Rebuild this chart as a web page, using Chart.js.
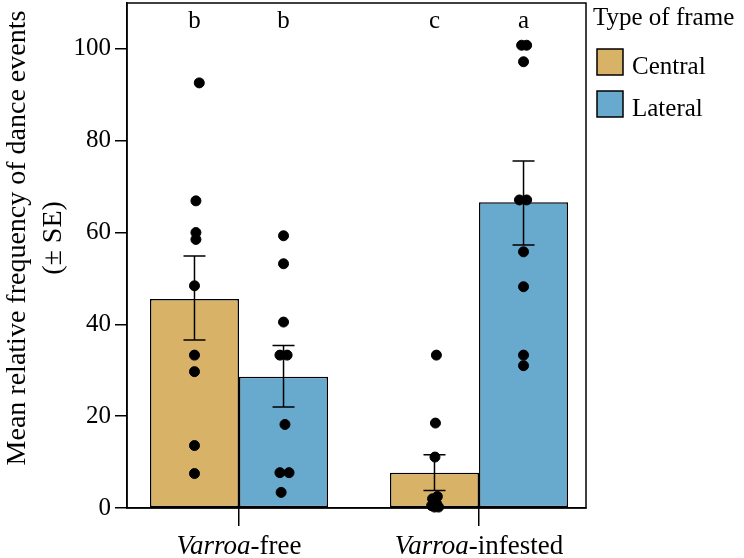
<!DOCTYPE html>
<html>
<head>
<meta charset="utf-8">
<script src="https://cdn.jsdelivr.net/npm/chart.js@4.4.1/dist/chart.umd.min.js"></script>
<style>
  body { margin: 0; background: #fff; }
</style>
</head>
<body>
<canvas id="barChart" width="744" height="558"></canvas>
<script>
// groups on the x axis and the two frame types
let groups = ['Varroa-free', 'Varroa-infested'];
let frameTypes = ['Central', 'Lateral'];

// bar heights (means) and the ends of the SE whiskers
let centralMean = [45.5, 7.7];
let lateralMean = [28.6, 66.6];
let centralSeLow = [36.6, 3.8];
let centralSeHigh = [54.9, 11.6];
let lateralSeLow = [22.0, 57.3];
let lateralSeHigh = [35.4, 75.6];

// significance letters over each bar
let centralLetters = ['b', 'c'];
let lateralLetters = ['b', 'a'];

// single colonies (dots), one list per bar
let centralFreePts = [92.6, 66.9, 60.0, 58.5, 48.4, 33.3, 29.7, 13.6, 7.5];
let centralInfPts = [33.3, 18.5, 11.1, 2.5, 2.0, 1.0, 0.5, 0.2, 0.2];
let lateralFreePts = [59.3, 53.2, 40.5, 33.3, 33.3, 18.2, 7.7, 7.7, 3.4];
let lateralInfPts = [100.8, 100.8, 97.2, 67.1, 67.1, 55.8, 48.2, 33.3, 31.0];

// horizontal jitter of the dots (in group units)
let centralFreeJit = [0.02, 0.006, 0.006, 0.006, 0, 0, 0, 0, 0];
let centralInfJit = [0.008, 0.004, 0.002, 0.012, -0.008, 0.008, -0.012, 0, 0.017];
let lateralFreeJit = [0, 0, 0, -0.015, 0.015, 0.006, -0.015, 0.023, -0.01];
let lateralInfJit = [-0.008, 0.013, 0, -0.017, 0.013, 0, 0, 0, 0];

const SERIF = '"Liberation Serif", "Times New Roman", serif';
const catPct = 0.742;
const barOffset = catPct / 4; // half a bar, in group units

function dots(values, jitter, group, side) {
    return values.map((v, i) => ({ x: group + side * barOffset + jitter[i], y: v }));
}

let centralDots = dots(centralFreePts, centralFreeJit, 0, -1).concat(dots(centralInfPts, centralInfJit, 1, -1));
let lateralDots = dots(lateralFreePts, lateralFreeJit, 0, 1).concat(dots(lateralInfPts, lateralInfJit, 1, 1));

// whiskers + letters, drawn right after the bars so the dots sit on top
const errorBars = {
    id: 'errorBars',
    afterDatasetDraw(chart, args) {
        if (args.index !== 0) return;
        const ctx = chart.ctx;
        const y = chart.scales.y;
        const sets = [
            { meta: chart.getDatasetMeta(0), lo: centralSeLow, hi: centralSeHigh, letters: centralLetters },
            { meta: chart.getDatasetMeta(1), lo: lateralSeLow, hi: lateralSeHigh, letters: lateralLetters }
        ];
        ctx.save();
        ctx.strokeStyle = '#000';
        ctx.lineWidth = 1.5;
        sets.forEach(s => {
            s.meta.data.forEach((bar, i) => {
                const top = y.getPixelForValue(s.hi[i]);
                const bot = y.getPixelForValue(s.lo[i]);
                ctx.beginPath();
                ctx.moveTo(bar.x, top); ctx.lineTo(bar.x, bot);
                ctx.moveTo(bar.x - 11, top); ctx.lineTo(bar.x + 11, top);
                ctx.moveTo(bar.x - 11, bot); ctx.lineTo(bar.x + 11, bot);
                ctx.stroke();
                ctx.fillStyle = '#000';
                ctx.font = '25px ' + SERIF;
                ctx.textAlign = 'center';
                ctx.textBaseline = 'alphabetic';
                ctx.fillText(s.letters[i], bar.x, 28);
            });
        });
        ctx.restore();
    }
};

// box around the panel, axis titles with italic genus, legend on the right
const decorations = {
    id: 'decorations',
    afterDraw(chart) {
        const ctx = chart.ctx;
        const a = chart.chartArea;
        ctx.save();
        ctx.strokeStyle = '#000';
        ctx.lineWidth = 1.5;
        ctx.strokeRect(a.left, a.top, a.right - a.left, a.bottom - a.top);

        // x labels: "Varroa" in italic
        ctx.fillStyle = '#000';
        ctx.textBaseline = 'alphabetic';
        ctx.textAlign = 'left';
        groups.forEach((g, i) => {
            const cx = chart.scales.x.getPixelForValue(i);
            const parts = g.split('-');
            ctx.font = 'italic 27px ' + SERIF;
            const w1 = ctx.measureText(parts[0]).width;
            ctx.font = '27px ' + SERIF;
            const w2 = ctx.measureText('-' + parts[1]).width;
            let x0 = cx - (w1 + w2) / 2;
            ctx.font = 'italic 27px ' + SERIF;
            ctx.fillText(parts[0], x0, 554);
            ctx.font = '27px ' + SERIF;
            ctx.fillText('-' + parts[1], x0 + w1, 554);
        });

        // y title, two lines
        ctx.font = '28px ' + SERIF;
        ctx.textAlign = 'center';
        [['Mean relative frequency of dance events', 25], ['(\u00b1 SE)', 61]].forEach(t => {
            ctx.save();
            ctx.translate(t[1], 238);
            ctx.rotate(-Math.PI / 2);
            ctx.fillText(t[0], 0, 0);
            ctx.restore();
        });

        // legend
        ctx.textAlign = 'left';
        ctx.font = '25px ' + SERIF;
        ctx.fillText('Type of frame', 593, 25);
        chart.data.datasets.slice(0, 2).forEach((ds, i) => {
            const top = 49 + i * 42;
            ctx.fillStyle = ds.backgroundColor;
            ctx.fillRect(597, top, 26, 26);
            ctx.strokeRect(597, top, 26, 26);
            ctx.fillStyle = '#000';
            ctx.fillText(ds.label, 632, top + 25);
        });
        ctx.restore();
    }
};

let ctx = document.getElementById('barChart').getContext('2d');
let chart = new Chart(ctx, {
    type: 'bar',
    data: {
        datasets: [{
            label: frameTypes[0],
            data: centralMean.map((v, i) => ({ x: i, y: v })),
            backgroundColor: 'rgb(216, 179, 103)',
            borderColor: '#000',
            borderWidth: 1.5,
            borderSkipped: false,
            categoryPercentage: catPct,
            barPercentage: 1,
            order: 1
        },
        {
            label: frameTypes[1],
            data: lateralMean.map((v, i) => ({ x: i, y: v })),
            backgroundColor: 'rgb(104, 169, 206)',
            borderColor: '#000',
            borderWidth: 1.5,
            borderSkipped: false,
            categoryPercentage: catPct,
            barPercentage: 1,
            order: 1
        },
        {
            type: 'scatter',
            label: 'Central colonies',
            data: centralDots,
            backgroundColor: '#000',
            borderColor: '#000',
            pointRadius: 5,
            clip: false,
            order: 0
        },
        {
            type: 'scatter',
            label: 'Lateral colonies',
            data: lateralDots,
            backgroundColor: '#000',
            borderColor: '#000',
            pointRadius: 5,
            clip: false,
            order: 0
        }]
    },
    options: {
        responsive: false,
        animation: false,
        devicePixelRatio: 1,
        layout: { autoPadding: false, padding: { top: 3, right: 158, left: 0, bottom: 0 } },
        plugins: { legend: { display: false }, tooltip: { enabled: false } },
        scales: {
            x: {
                type: 'linear',
                offset: false,
                min: -0.4667,
                max: 1.4458,
                ticks: { display: false, stepSize: 1, includeBounds: false },
                grid: { offset: false, drawOnChartArea: false, drawTicks: true, tickLength: 18, color: '#000', lineWidth: 1.5 },
                border: { display: true, color: '#000', width: 1.5 },
                afterFit: scale => { scale.height = 50; scale.paddingLeft = 0; scale.paddingRight = 0; }
            },
            y: {
                min: 0,
                max: 110,
                ticks: { stepSize: 20, includeBounds: false, color: '#000', padding: 4, font: { family: SERIF, size: 25 } },
                grid: { drawOnChartArea: false, drawTicks: true, tickLength: 12, color: '#000', lineWidth: 1.5 },
                border: { display: true, color: '#000', width: 1.5 },
                afterFit: scale => { scale.width = 127; scale.paddingTop = 0; scale.paddingBottom = 0; }
            }
        }
    },
    plugins: [errorBars, decorations]
});
</script>
</body>
</html>
